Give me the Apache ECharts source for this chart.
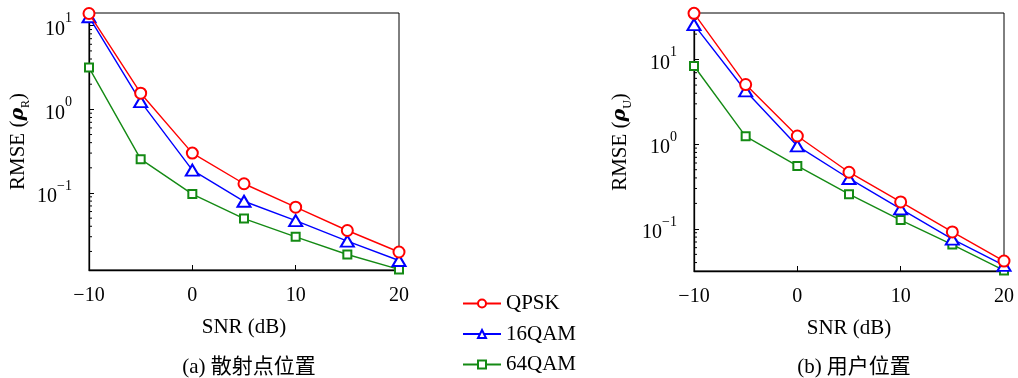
<!DOCTYPE html>
<html>
<head>
<meta charset="utf-8">
<script src="https://cdn.jsdelivr.net/npm/echarts@6/dist/echarts.min.js"></script>
<style>
  html, body { margin: 0; padding: 0; background: #fff; }
  #chart { width: 1018px; height: 378px; }
</style>
</head>
<body>
<div id="chart"></div>
<script>
// SNR sweep (dB)
const snr = [-10, -5, 0, 5, 10, 15, 20];
const xTicks = [-10, 0, 10, 20];

// (a) scatterer position RMSE
const scatterQPSK  = [14.0, 1.56, 0.30, 0.129, 0.0676, 0.0356, 0.0197];
const scatter16QAM = [12.8, 1.24, 0.188, 0.0796, 0.0468, 0.0266, 0.0156];
const scatter64QAM = [3.16, 0.254, 0.097, 0.0494, 0.0299, 0.0184, 0.0122];

// (b) user position RMSE
const userQPSK  = [35.2, 5.07, 1.25, 0.467, 0.208, 0.092, 0.0417];
const user16QAM = [25.9, 4.26, 0.955, 0.394, 0.172, 0.0757, 0.0371];
const user64QAM = [8.4, 1.24, 0.554, 0.257, 0.127, 0.0653, 0.0323];

const schemes = ['QPSK', '16QAM', '64QAM'];
const panelTitles = ['(a) 散射点位置', '(b) 用户位置'];
const yNames = ['R', 'U'];

const serif = '"Liberation Serif", "Times New Roman", "Noto Sans CJK SC", serif';
const colors = ['#ff0000', '#0000ff', '#148a14'];
const symbols = ['emptyCircle', 'emptyTriangle', 'emptyRect'];
const symbolSizes = [11, [13, 11], 8];

const panels = [
  { grid: { left: 89, top: 13, width: 310, height: 257 }, yMin: 0.0120, yMax: 14.2,
    data: [scatterQPSK, scatter16QAM, scatter64QAM], center: 244 },
  { grid: { left: 694, top: 13, width: 310, height: 258 }, yMin: 0.0318, yMax: 35.5,
    data: [userQPSK, user16QAM, user64QAM], center: 849 }
];

function pairs(ys) { return snr.map((x, i) => [x, ys[i]]); }

// minor log ticks (2..9 × 10^k) inside the axis range
function minorTicks(lo, hi) {
  const out = [];
  for (let e = -3; e <= 2; e++) {
    for (let m = 2; m <= 9; m++) {
      const v = m * Math.pow(10, e);
      if (v > lo && v < hi) out.push(v);
    }
  }
  return out;
}

function supLabel(v) {
  const lg = Math.log10(v);
  const e = Math.round(lg);
  if (Math.abs(lg - e) > 1e-6) return '';
  return '{b|10}{s|' + (e < 0 ? '\u2212' + (-e) : e) + '}';
}

const grids = [], xAxes = [], yAxes = [], series = [], titles = [];

panels.forEach((p, k) => {
  grids.push(Object.assign({ show: true, borderColor: '#000', borderWidth: 1, containLabel: false }, p.grid));
  xAxes.push({
    type: 'value', gridIndex: k, min: -10, max: 20, interval: 10,
    name: 'SNR (dB)', nameLocation: 'middle', nameGap: 47,
    nameTextStyle: { fontFamily: serif, fontSize: 21, color: '#000' },
    axisLine: { show: true, onZero: false, lineStyle: { color: '#000', width: 1.3 } },
    axisTick: { show: true, inside: true, length: 5, lineStyle: { color: '#000', width: 1 } },
    splitLine: { show: false },
    axisLabel: {
      margin: 16, fontFamily: serif, fontSize: 20, color: '#000',
      formatter: v => (v < 0 ? '\u2212' + (-v) : '' + v)
    }
  });
  yAxes.push({
    type: 'log', logBase: 10, gridIndex: k, min: p.yMin, max: p.yMax,
    name: '{n|RMSE (}{p|\u03c1}{sb|' + yNames[k] + '}{n|)}',
    nameLocation: 'middle', nameGap: k === 0 ? 57 : 60, nameRotate: 90,
    nameTextStyle: {
      color: '#000',
      rich: {
        n: { fontFamily: serif, fontSize: 21, lineHeight: 28, color: '#000' },
        p: { fontFamily: '"DejaVu Serif", serif', fontStyle: 'italic', fontWeight: 'bold', fontSize: 19, lineHeight: 28, color: '#000' },
        sb: { fontFamily: serif, fontSize: 12, lineHeight: 14, verticalAlign: 'bottom', color: '#000' }
      }
    },
    axisLine: { show: true, onZero: false, lineStyle: { color: '#000', width: 1.3 } },
    axisTick: { show: true, inside: true, length: 5, lineStyle: { color: '#000', width: 1 } },
    splitLine: { show: false },
    axisLabel: {
      margin: 17, color: '#000', showMinLabel: false, showMaxLabel: false,
      formatter: supLabel,
      rich: {
        b: { fontFamily: serif, fontSize: 20, lineHeight: 28, verticalAlign: 'bottom', color: '#000' },
        s: { fontFamily: serif, fontSize: 14, lineHeight: 15, verticalAlign: 'top', color: '#000' }
      }
    }
  });

  p.data.forEach((ys, i) => {
    series.push({
      name: schemes[i], type: 'line', xAxisIndex: k, yAxisIndex: k,
      data: pairs(ys), color: colors[i],
      symbol: symbols[i], symbolSize: symbolSizes[i], showAllSymbol: true,
      lineStyle: { color: colors[i], width: 1.4 },
      itemStyle: { color: colors[i], borderWidth: 1.4 },
      clip: false, z: 3 + (2 - i), animation: false
    });
  });

  // minor ticks on the log axis
  series.push({
    type: 'custom', xAxisIndex: k, yAxisIndex: k, silent: true, animation: false,
    data: minorTicks(p.yMin, p.yMax).map(v => [-10, v]),
    renderItem: (params, api) => {
      const pt = api.coord([api.value(0), api.value(1)]);
      return {
        type: 'line',
        shape: { x1: pt[0], y1: pt[1], x2: pt[0] + 3, y2: pt[1] },
        style: { stroke: '#000', lineWidth: 1 }
      };
    }
  });

  titles.push({
    text: panelTitles[k], left: p.center, top: 352, textAlign: 'center',
    textStyle: { fontFamily: serif, fontSize: 21, fontWeight: 'normal', color: '#000' }
  });
});

const chart = echarts.init(document.getElementById('chart'), null, { renderer: 'canvas' });
chart.setOption({
  animation: false,
  backgroundColor: '#fff',
  title: titles,
  grid: grids,
  xAxis: xAxes,
  yAxis: yAxes,
  legend: {
    data: schemes, orient: 'vertical', left: 462, top: 293, padding: 0,
    itemWidth: 38, itemHeight: 10, itemGap: 9.5,
    textStyle: { fontFamily: serif, fontSize: 21, color: '#000', lineHeight: 20 }
  },
  series: series
});
</script>
</body>
</html>
